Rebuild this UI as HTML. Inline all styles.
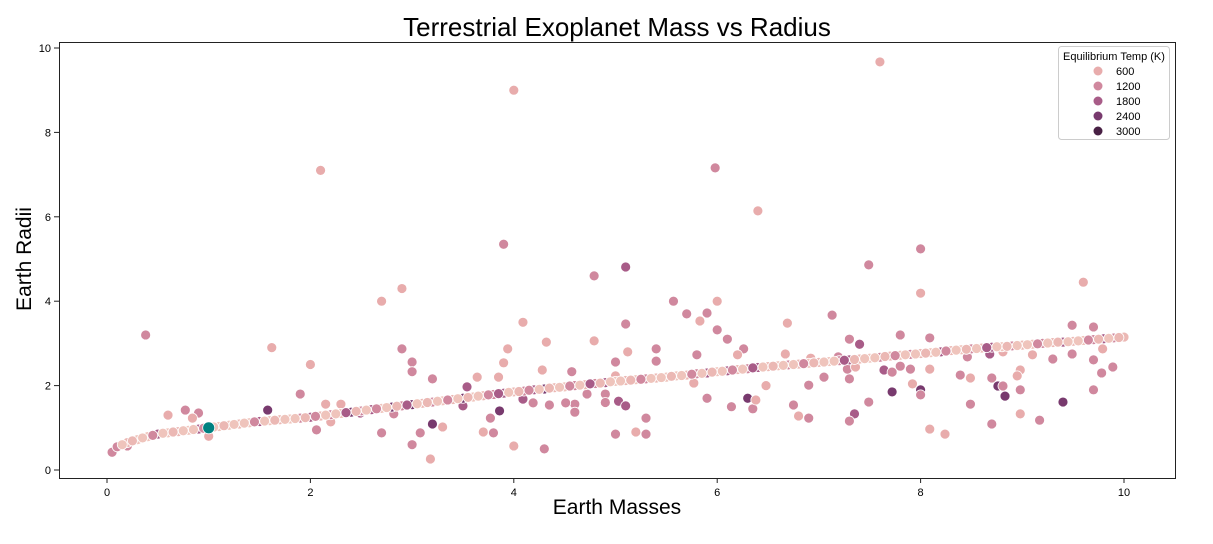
<!DOCTYPE html>
<html><head><meta charset="utf-8">
<style>
body{margin:0;background:#fff;font-family:"Liberation Sans",sans-serif;}
svg{display:block}
</style></head>
<body>
<svg id="chart" width="1213" height="544" xmlns="http://www.w3.org/2000/svg">
<text x="617" y="36" font-size="26" text-anchor="middle" font-family="Liberation Sans">Terrestrial Exoplanet Mass vs Radius</text>
<text x="617" y="514" font-size="21" text-anchor="middle" font-family="Liberation Sans">Earth Masses</text>
<text x="0" y="0" font-size="21" text-anchor="middle" font-family="Liberation Sans" transform="translate(31,259) rotate(-90)">Earth Radii</text>
<g id="marks"></g>
<rect x="59.5" y="42.5" width="1116" height="436" fill="none" stroke="#222" stroke-width="1"/>
<g id="ticks"></g>
<g>
<rect x="1058.5" y="46.5" width="111" height="93" rx="3" fill="#fff" fill-opacity="0.85" stroke="#ccc"/>
<text x="1114" y="60" font-size="11" text-anchor="middle">Equilibrium Temp (K)</text>
<g id="legend-items"></g>
</g>
</svg>
<script>
const curveMass=[0.05,0.1,0.2,0.3,0.4,0.5,0.6,0.7,0.8,0.9,1.0,1.1,1.2,1.3,1.4,1.5,1.6,1.7,1.8,1.9,2.0,2.1,2.2,2.3,2.4,2.5,2.6,2.7,2.8,2.9,3.0,3.1,3.2,3.3,3.4,3.5,3.6,3.7,3.8,3.9,4.0,4.1,4.2,4.3,4.4,4.5,4.6,4.7,4.8,4.9,5.0,5.1,5.2,5.3,5.4,5.5,5.6,5.7,5.8,5.9,6.0,6.1,6.2,6.3,6.4,6.5,6.6,6.7,6.8,6.9,7.0,7.1,7.2,7.3,7.4,7.5,7.6,7.7,7.8,7.9,8.0,8.1,8.2,8.3,8.4,8.5,8.6,8.7,8.8,8.9,9.0,9.1,9.2,9.3,9.4,9.5,9.6,9.7,9.8,9.9,10.0];
const curveRadius=[0.42,0.55,0.65,0.72,0.79,0.85,0.88,0.91,0.94,0.97,1.0,1.03,1.06,1.09,1.12,1.15,1.17,1.19,1.21,1.23,1.25,1.28,1.31,1.34,1.37,1.40,1.43,1.46,1.49,1.52,1.55,1.58,1.61,1.64,1.67,1.70,1.73,1.76,1.79,1.82,1.85,1.87,1.90,1.92,1.95,1.97,2.00,2.02,2.05,2.07,2.10,2.12,2.14,2.16,2.18,2.20,2.23,2.25,2.28,2.30,2.33,2.35,2.38,2.40,2.43,2.45,2.47,2.49,2.51,2.53,2.55,2.57,2.59,2.61,2.63,2.65,2.67,2.70,2.72,2.74,2.76,2.78,2.80,2.83,2.85,2.87,2.89,2.91,2.92,2.94,2.96,2.98,3.00,3.02,3.03,3.05,3.07,3.09,3.11,3.13,3.15];
const curveTemp=[1200,1200,500,400,400,1800,400,500,400,1800,500,400,400,500,400,1800,400,500,400,1200,1800,500,1200,400,2400,1200,1800,400,2400,1200,2400,500,1200,400,500,2400,400,500,1200,1800,500,1200,1800,2400,500,400,1200,500,1200,1800,400,500,400,1200,500,400,400,500,1200,1800,400,1800,500,1200,1800,500,400,1200,500,400,500,400,1200,1800,500,400,1200,500,400,1200,500,400,1800,500,400,1200,500,1800,400,1200,500,400,1200,500,1800,500,400,1200,1800,1200,500];
const midMass=[0.15,0.25,0.35,0.45,0.55,0.65,0.75,0.85,0.95,1.05,1.15,1.25,1.35,1.45,1.55,1.65,1.75,1.85,1.95,2.05,2.15,2.25,2.35,2.45,2.55,2.65,2.75,2.85,2.95,3.05,3.15,3.25,3.35,3.45,3.55,3.65,3.75,3.85,3.95,4.05,4.15,4.25,4.35,4.45,4.55,4.65,4.75,4.85,4.95,5.05,5.15,5.25,5.35,5.45,5.55,5.65,5.75,5.85,5.95,6.05,6.15,6.25,6.35,6.45,6.55,6.65,6.75,6.85,6.95,7.05,7.15,7.25,7.35,7.45,7.55,7.65,7.75,7.85,7.95,8.05,8.15,8.25,8.35,8.45,8.55,8.65,8.75,8.85,8.95,9.05,9.15,9.25,9.35,9.45,9.55,9.65,9.75,9.85,9.95];
const midRadius=[0.60,0.69,0.76,0.82,0.87,0.90,0.93,0.96,0.99,1.02,1.05,1.08,1.11,1.14,1.16,1.18,1.20,1.22,1.24,1.27,1.30,1.33,1.36,1.39,1.42,1.45,1.48,1.51,1.54,1.57,1.60,1.63,1.66,1.69,1.72,1.75,1.78,1.81,1.84,1.86,1.89,1.91,1.94,1.96,1.99,2.01,2.04,2.06,2.09,2.11,2.13,2.15,2.17,2.19,2.22,2.24,2.27,2.29,2.32,2.34,2.37,2.39,2.42,2.44,2.46,2.48,2.50,2.52,2.54,2.56,2.58,2.60,2.62,2.64,2.66,2.69,2.71,2.73,2.75,2.77,2.79,2.82,2.84,2.86,2.88,2.90,2.92,2.93,2.95,2.97,2.99,3.01,3.03,3.04,3.06,3.08,3.10,3.12,3.14];
const midTemp=[400,500,400,1200,400,500,400,400,1200,400,500,400,400,1200,400,500,400,400,500,1200,400,400,1800,500,400,1200,400,500,1800,400,500,400,1200,400,500,400,1200,1800,400,500,1200,400,500,400,1200,400,1800,500,400,400,500,1200,400,400,500,400,1200,400,500,400,1200,400,1800,400,500,400,400,1200,500,400,400,1800,500,400,400,500,1200,400,400,500,400,1200,400,500,400,1800,400,500,400,400,1200,400,500,400,400,1200,500,400,500];
const outMass=[0.38,1.62,1.58,2.0,2.1,1.9,0.77,0.6,0.9,0.84,1.0,0.2,2.7,2.9,2.9,3.0,3.0,3.2,3.0,3.18,3.3,3.2,3.08,2.7,2.06,2.82,2.49,2.3,2.15,2.2,4.0,3.9,3.94,3.9,3.85,3.64,4.09,4.32,4.28,3.7,3.8,4.0,4.3,3.86,3.77,3.54,3.5,4.35,4.19,4.09,4.79,4.79,5.1,5.1,5.12,5.0,5.0,4.57,4.9,4.9,5.03,5.1,5.0,5.2,5.3,5.3,4.6,4.6,4.51,4.72,5.57,5.4,5.4,5.98,6.4,6.0,6.0,5.7,5.9,5.83,5.8,6.1,6.26,6.2,5.77,5.9,6.14,6.35,6.3,6.38,6.48,6.67,6.69,6.75,6.8,6.9,6.9,6.92,7.05,7.13,7.19,7.3,7.3,7.28,7.4,7.36,7.35,7.3,7.49,7.6,7.49,7.64,7.72,7.72,7.8,7.8,7.9,7.92,8.0,8.0,8.0,8.0,8.09,8.09,8.09,8.24,8.39,8.46,8.49,8.49,8.68,8.7,8.7,8.76,8.81,8.83,8.81,8.98,8.95,8.98,8.98,9.1,9.17,9.3,9.4,9.49,9.49,9.6,9.7,9.7,9.7,9.79,9.78,9.89];
const outRadius=[3.2,2.9,1.42,2.5,7.1,1.8,1.42,1.3,1.35,1.23,0.8,0.57,4.0,4.3,2.87,2.56,2.33,2.16,0.6,0.26,1.02,1.09,0.88,0.88,0.95,1.33,1.35,1.56,1.56,1.14,9.0,5.35,2.87,2.54,2.2,2.2,3.5,3.03,2.37,0.9,0.88,0.57,0.5,1.4,1.23,1.97,1.52,1.54,1.59,1.68,4.6,3.06,4.81,3.46,2.8,2.56,2.23,2.33,1.8,1.6,1.63,1.52,0.85,0.9,0.85,1.23,1.56,1.37,1.59,1.8,4.0,2.87,2.58,7.16,6.14,4.0,3.32,3.7,3.72,3.53,2.73,3.1,2.87,2.73,2.06,1.7,1.5,1.45,1.7,1.66,2.0,2.75,3.48,1.54,1.28,1.23,2.01,2.65,2.2,3.67,2.68,3.1,2.16,2.39,2.98,2.44,1.33,1.16,4.86,9.67,1.61,2.37,1.85,2.32,3.2,2.46,2.39,2.04,5.24,4.19,1.9,1.78,3.13,2.39,0.97,0.85,2.25,2.68,2.18,1.56,2.75,2.18,1.09,1.99,1.99,1.75,2.8,2.37,2.23,1.9,1.33,2.73,1.18,2.63,1.61,3.43,2.75,4.45,3.39,2.61,1.9,2.87,2.3,2.44];
const outTemp=[1200,600,2400,600,600,1200,1200,600,1200,600,600,1200,600,600,1200,1200,1200,1200,1200,600,600,2400,1200,1200,1200,1200,1800,600,600,600,600,1200,600,600,600,600,600,600,600,600,1200,600,1200,2400,1200,1800,1800,1200,1200,1800,1200,600,1800,1200,600,1200,600,1200,1200,1200,1800,1800,1200,600,1200,1200,1200,1200,1200,1200,1200,1200,1200,1200,600,600,1200,1200,1200,600,1200,1200,1200,600,600,1200,1200,1200,2400,600,600,600,600,1200,600,1200,1200,600,1200,1200,1200,1200,1200,1200,1800,600,1800,1200,1200,600,1200,1800,2400,1200,1200,1200,1200,600,1200,600,2400,1200,1200,600,600,600,1200,1200,600,1200,1800,1200,1200,2400,1200,2400,600,600,600,1200,600,600,1200,1200,2400,1200,1200,600,1200,1200,1200,600,1200,1200];
const earthMass=[1.0];
const earthRadius=[1.0];
const xTicks=[0,2,4,6,8,10];
const yTicks=[0,2,4,6,8,10];
const legendTemps=[600,1200,1800,2400,3000];

const NS="http://www.w3.org/2000/svg";
function xs(v){return 107+v*101.7;}
function ys(v){return 470-v*42.2;}
const stops=[[300,[242,208,196]],[600,[232,172,172]],[1200,[208,136,158]],[1800,[168,92,136]],[2400,[120,58,110]],[3000,[72,32,68]]];
function col(t){
  if(t<=stops[0][0])return 'rgb('+stops[0][1]+')';
  for(let i=1;i<stops.length;i++){if(t<=stops[i][0]){const a=stops[i-1],b=stops[i],f=(t-a[0])/(b[0]-a[0]);return 'rgb('+a[1].map((c,k)=>Math.round(c+(b[1][k]-c)*f)).join(',')+')';}}
  return 'rgb('+stops[stops.length-1][1]+')';
}
const marks=document.getElementById('marks');
function dot(m,r,fill,rad,name){
  const c=document.createElementNS(NS,'circle');
  c.setAttribute('cx',xs(m));c.setAttribute('cy',ys(r));c.setAttribute('r',rad);
  c.setAttribute('fill',fill);c.setAttribute('stroke','#fff');c.setAttribute('stroke-width','0.8');
  
  
  marks.appendChild(c);
}
outMass.forEach((m,i)=>dot(m,outRadius[i],col(outTemp[i]),5,'planet-point'));
curveMass.forEach((m,i)=>dot(m,curveRadius[i],col(curveTemp[i]),5,'model-point'));
midMass.forEach((m,i)=>dot(m,midRadius[i],col(midTemp[i]),5,'model-point'));
earthMass.forEach((m,i)=>dot(m,earthRadius[i],'#008080',6,'earth-point'));
const tg=document.getElementById('ticks');
function add(tag,attrs,txt){const e=document.createElementNS(NS,tag);for(const k in attrs)e.setAttribute(k,attrs[k]);if(txt!=null)e.textContent=txt;tg.appendChild(e);return e;}
xTicks.forEach(v=>{
  const l=add('line',{x1:xs(v),x2:xs(v),y1:478,y2:483,stroke:'#222'});
  
  
  const t=add('text',{x:xs(v),y:496,'font-size':11,'text-anchor':'middle'},v);
  
  
});
yTicks.forEach(v=>{
  const l=add('line',{x1:54,x2:59,y1:ys(v),y2:ys(v),stroke:'#222'});
  
  
  const t=add('text',{x:51,y:ys(v)+4,'font-size':11,'text-anchor':'end'},v);
  
  
});
const lg=document.getElementById('legend-items');
legendTemps.forEach((t,i)=>{
  const y=71+i*15;
  const c=document.createElementNS(NS,'circle');
  c.setAttribute('cx',1098);c.setAttribute('cy',y);c.setAttribute('r',4.5);c.setAttribute('fill',col(t));
  
  
  lg.appendChild(c);
  const tx=document.createElementNS(NS,'text');
  tx.setAttribute('x',1116);tx.setAttribute('y',y+4);tx.setAttribute('font-size',11);tx.textContent=t;
  
  
  lg.appendChild(tx);
});
</script>
</body></html>
